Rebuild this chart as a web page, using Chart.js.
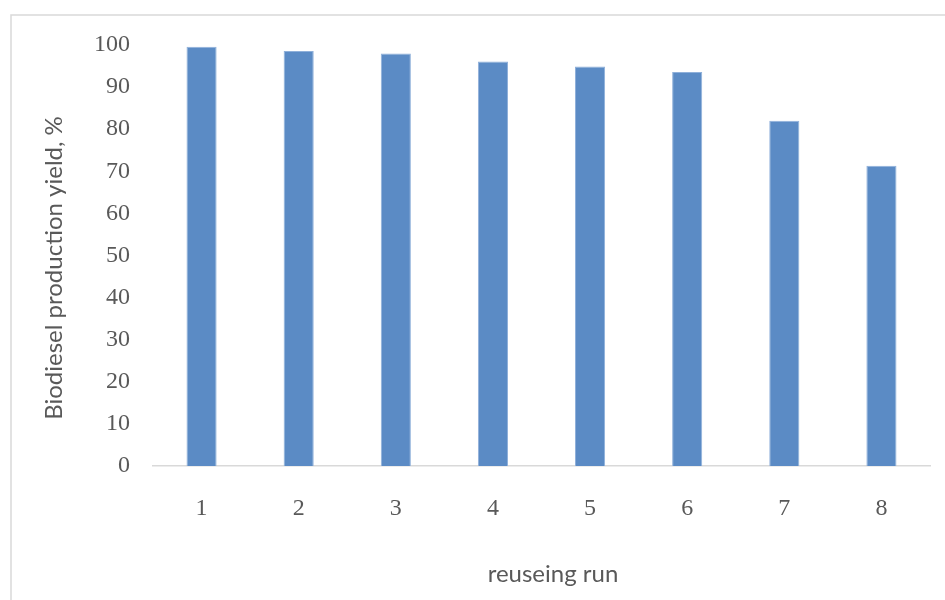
<!DOCTYPE html>
<html>
<head>
<meta charset="utf-8">
<script src="https://cdn.jsdelivr.net/npm/chart.js@4.4.1/dist/chart.umd.min.js"></script>
<style>
  html, body { margin: 0; padding: 0; background: #ffffff; }
  #wrap { width: 945px; height: 600px; position: relative; }
</style>
</head>
<body>
<div id="wrap"><canvas id="c" width="945" height="600"></canvas></div>
<script>
// Reuse runs of the catalyst and the biodiesel yield obtained in each
const runs = ['1', '2', '3', '4', '5', '6', '7', '8'];
const yieldPercent = [99.6, 98.6, 98.0, 96.1, 94.9, 93.6, 82.0, 71.3];
const yTicks = [0, 10, 20, 30, 40, 50, 60, 70, 80, 90, 100];

const xTitle = 'reuseing run';
const yTitle = 'Biodiesel production yield, %';

const textGray = '#595959';
const tickFont = { family: '"Liberation Serif", serif', size: 24 };
const titleFont = '24px Lato, "Open Sans", sans-serif';

// Frame lines and axis titles drawn directly on the canvas
const decorations = {
  id: 'decorations',
  beforeDraw(chart) {
    const ctx = chart.ctx;
    ctx.save();
    ctx.strokeStyle = '#d9d9d9';
    ctx.lineWidth = 1.5;
    ctx.beginPath();
    ctx.moveTo(11, 600);
    ctx.lineTo(11, 15);
    ctx.lineTo(945, 15);
    ctx.stroke();
    ctx.restore();
  },
  afterDraw(chart) {
    const ctx = chart.ctx;
    ctx.save();
    ctx.fillStyle = textGray;
    ctx.font = titleFont;
    ctx.textAlign = 'center';
    ctx.textBaseline = 'middle';
    ctx.fillText(xTitle, 553, 574);
    ctx.translate(54, 268);
    ctx.rotate(-Math.PI / 2);
    ctx.fillText(yTitle, 0, 0);
    ctx.restore();
  }
};

new Chart(document.getElementById('c'), {
  type: 'bar',
  data: {
    labels: runs,
    datasets: [{
      data: yieldPercent,
      backgroundColor: '#5b8bc5',
      borderColor: '#8fb0da',
      borderWidth: 1,
      borderSkipped: 'bottom',
      categoryPercentage: 1.0,
      barPercentage: 0.31
    }]
  },
  options: {
    responsive: false,
    animation: false,
    devicePixelRatio: 1,
    layout: { padding: { left: 0, right: 15, top: 45, bottom: 0 } },
    plugins: { legend: { display: false }, tooltip: { enabled: false } },
    scales: {
      x: {
        grid: { display: false, drawTicks: false },
        border: { display: true, color: '#d9d9d9', width: 1.5 },
        ticks: { color: textGray, font: tickFont, padding: 28, maxRotation: 0 },
        afterFit(scale) { scale.height = 134; }
      },
      y: {
        min: 0,
        max: 100,
        afterBuildTicks(scale) { scale.ticks = yTicks.map(v => ({ value: v })); },
        grid: { display: false, drawTicks: false },
        border: { display: false },
        ticks: { color: textGray, font: tickFont, padding: 23 },
        afterFit(scale) { scale.width = 153; }
      }
    }
  },
  plugins: [decorations]
});
</script>
</body>
</html>
